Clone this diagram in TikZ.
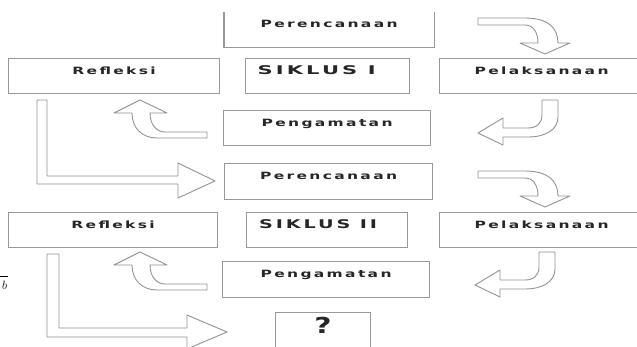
\documentclass[tikz,border=0pt]{standalone}
\usepackage{fontspec}
\newfontfamily\lblfont{DejaVu Sans}[LetterSpace=15]
\newcommand\lbl[2][1.55]{\raisebox{2pt}[0pt][0pt]{\scalebox{#1}[1]{#2}}}
\begin{document}
\begin{tikzpicture}[x=1pt,y=-1pt,
  box/.style={draw=gray!80, line width=1.2pt, inner sep=0pt, anchor=north west,
    minimum height=35, font=\lblfont\bfseries\fontsize{10}{12}\selectfont, text=black!85},
  openbox/.style={box, draw=none},
  sikbox/.style={box, font=\lblfont\bfseries\fontsize{12}{14}\selectfont},
  hollow/.style={draw=gray!85, line width=0.9pt, fill=white, line join=round}]
\useasboundingbox (0,0) rectangle (637,347);
\fill[white] (0,0) rectangle (637,347);

% ---- cycle I ----
\node[openbox, minimum width=209, minimum height=34] (per1) at (224,12) {\lbl{Perencanaan}};
\draw[draw=gray!80, line width=1.2pt] (per1.north west) -- (per1.south west) -- (per1.south east) -- (per1.north east);
\node[box, minimum width=211] (ref1) at (8,58) {\lbl{Refleksi}};
\node[sikbox, minimum width=164] (sik1) at (245,58) {\lbl[1.75]{SIKLUS I}\kern22pt};
\node[box, minimum width=210] (pel1) at (439,58) {\lbl{Pelaksanaan}\kern6pt};
\node[box, minimum width=207] (pen1) at (223,110) {\lbl{Pengamatan}};

% ---- cycle II ----
\node[box, minimum width=208, minimum height=36] (per2) at (224,163) {\lbl{Perencanaan}};
\node[box, minimum width=209] (ref2) at (8,212) {\lbl{Refleksi}};
\node[sikbox, minimum width=161] (sik2) at (246,212) {\lbl[1.6]{SIKLUS II}\kern18pt};
\node[box, minimum width=210] (pel2) at (439,212) {\lbl{Pelaksanaan}\kern6pt};
\node[box, minimum width=207, minimum height=36] (pen2) at (222,261) {\lbl{Pengamatan}};
\node[box, minimum width=95, minimum height=48, font=\lblfont\bfseries\fontsize{22}{24}\selectfont] (q) at (275,312) {\raisebox{3pt}[0pt][0pt]{\scalebox{1.35}[1]{?}}};

% ---- hollow arrows, cycle I ----
\draw[hollow] (478,18) -- (525,18) .. controls (548,18) and (558,28) .. (558,43) -- (570,43) -- (545,54) -- (520,43) -- (538,43) .. controls (538,32) and (533,25) .. (525,25) -- (478,25) -- cycle;
\draw[hollow] (542,100) -- (558,100) -- (558,117) .. controls (558,130) and (545,137) .. (528,137) -- (503,137) -- (503,145) -- (478,133) -- (503,118) -- (503,128) -- (528,128) .. controls (537,128) and (542,123) .. (542,115) -- cycle;
\draw[hollow] (207,132) -- (207,138) -- (157,138) .. controls (142,138) and (132,128) .. (132,113) -- (114,113) -- (140,100) -- (167,113) -- (150,113) .. controls (150,124) and (156,132) .. (165,132) -- cycle;
\draw[hollow] (37,100) -- (47,100) -- (47,176) -- (178,176) -- (178,163) -- (215,181) -- (178,198) -- (178,184) -- (37,184) -- cycle;

% ---- hollow arrows, cycle II ----
\begin{scope}[yshift=-153pt]
\draw[hollow] (478,18) -- (525,18) .. controls (548,18) and (558,28) .. (558,43) -- (570,43) -- (545,54) -- (520,43) -- (538,43) .. controls (538,32) and (533,25) .. (525,25) -- (478,25) -- cycle;
\end{scope}
\begin{scope}[xshift=-3pt, yshift=-152pt]
\draw[hollow] (542,100) -- (558,100) -- (558,117) .. controls (558,130) and (545,137) .. (528,137) -- (503,137) -- (503,145) -- (478,133) -- (503,118) -- (503,128) -- (528,128) .. controls (537,128) and (542,123) .. (542,115) -- cycle;
\end{scope}
\begin{scope}[yshift=-152pt]
\draw[hollow] (207,132) -- (207,138) -- (157,138) .. controls (142,138) and (132,128) .. (132,113) -- (114,113) -- (140,100) -- (167,113) -- (150,113) .. controls (150,124) and (156,132) .. (165,132) -- cycle;
\end{scope}
\draw[hollow] (47,254) -- (59,254) -- (59,328) -- (187,328) -- (187,315) -- (227,332) -- (187,349) -- (187,337) -- (47,337) -- cycle;

% ---- stray fragment at left edge ----
\draw[black, line width=0.6pt] (0,276) -- (8,276);
\node[inner sep=0pt, font=\fontsize{12}{14}\selectfont] (frag) at (4.5,285) {$b$};
\end{tikzpicture}
\end{document}
